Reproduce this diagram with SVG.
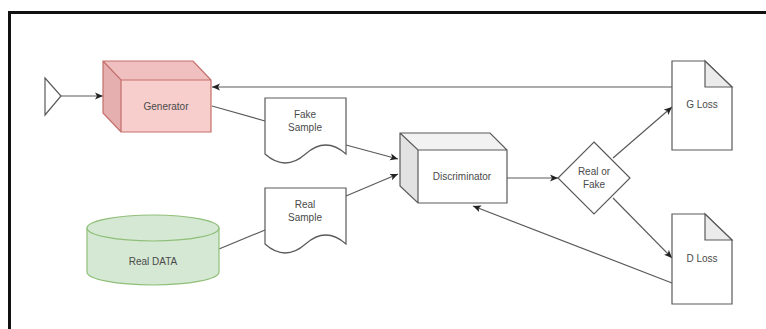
<svg xmlns="http://www.w3.org/2000/svg" width="766" height="329" viewBox="0 0 766 329">
  <style>
    .lbl { font-family: "Liberation Sans", Arial, sans-serif; font-size: 10px; fill: #4a4a4a; text-anchor: middle; }
    .edge { fill: none; stroke: #5a5a5a; stroke-width: 1.2; }
    .arrow { marker-end: url(#head); }
    .plain { fill: #fff; stroke: #5a5a5a; stroke-width: 1.2; }
    .fold { fill: #ebebeb; stroke: #5a5a5a; stroke-width: 1.2; }
  </style>
  <defs>
    <marker id="head" markerWidth="9" markerHeight="8" refX="8" refY="4" orient="auto" markerUnits="userSpaceOnUse">
      <path d="M0,0.5 L8,4 L0,7.5 L2,4 Z" fill="#222"/>
    </marker>
  </defs>

  <rect width="766" height="329" fill="#fff"/>

  <!-- frame -->
  <path d="M9.5,329 V12.5 H766" fill="none" stroke="#111" stroke-width="3"/>

  <!-- connectors -->
  <g id="connectors">
    <line class="edge arrow" x1="61" y1="96" x2="103" y2="96"/>
    <line class="edge arrow" x1="672" y1="87" x2="212" y2="87"/>
    <line class="edge" x1="212" y1="106" x2="265" y2="121"/>
    <line class="edge arrow" x1="346" y1="145" x2="398" y2="159"/>
    <line class="edge arrow" x1="346" y1="196" x2="398" y2="174"/>
    <line class="edge" x1="219" y1="249" x2="265" y2="230"/>
    <line class="edge arrow" x1="507" y1="178" x2="558" y2="178"/>
    <line class="edge arrow" x1="613" y1="158" x2="672" y2="107"/>
    <line class="edge arrow" x1="613" y1="198" x2="672" y2="258"/>
    <line class="edge arrow" x1="672" y1="283" x2="473" y2="206"/>
  </g>

  <!-- input noise -->
  <g id="noise">
    <path d="M45,78 L61,96 L45,115 Z" fill="#fff" stroke="#5a5a5a" stroke-width="1.2"/>
  </g>

  <!-- Generator cube -->
  <g id="generator">
    <polygon points="103,61 193,61 211,80 121,80" fill="#efc0bf"/>
    <polygon points="103,61 121,80 121,132 103,113" fill="#e4afae"/>
    <rect x="121" y="80" width="90" height="52" fill="#f8cecc"/>
    <path d="M103,61 H193 L211,80 V132 H121 L103,113 Z M103,61 L121,80 H211 M121,80 V132" fill="none" stroke="#c46e6b" stroke-width="1.2"/>
    <text class="lbl" x="166" y="110">Generator</text>
  </g>

  <!-- Fake Sample document -->
  <g id="fake-sample">
    <path class="plain" d="M265,98 H346 V154 Q325.75,136 305.5,154 Q285.25,172 265,154 Z"/>
    <text class="lbl" x="305" y="118">Fake</text>
    <text class="lbl" x="305" y="131">Sample</text>
  </g>

  <!-- Real Sample document -->
  <g id="real-sample">
    <path class="plain" d="M265,188 H346 V244 Q325.75,226 305.5,244 Q285.25,262 265,244 Z"/>
    <text class="lbl" x="305" y="208">Real</text>
    <text class="lbl" x="305" y="221">Sample</text>
  </g>

  <!-- Real DATA cylinder -->
  <g id="real-data">
    <path d="M87,228 A66,13 0 0 1 219,228 V272 A66,13 0 0 1 87,272 Z" fill="#d5e8d4" stroke="#8fbf78" stroke-width="1.2"/>
    <path d="M87,228 A66,13 0 0 0 219,228" fill="none" stroke="#8fbf78" stroke-width="1.2"/>
    <text class="lbl" x="153" y="265">Real DATA</text>
  </g>

  <!-- Discriminator cube -->
  <g id="discriminator">
    <polygon points="400,133 490,133 507,150 418,150" fill="#f2f2f2"/>
    <polygon points="400,133 418,150 418,203 400,186" fill="#e2e2e2"/>
    <rect x="418" y="150" width="89" height="53" fill="#fff"/>
    <path d="M400,133 H490 L507,150 V203 H418 L400,186 Z M400,133 L418,150 H507 M418,150 V203" fill="none" stroke="#5a5a5a" stroke-width="1.2"/>
    <text class="lbl" x="462" y="180">Discriminator</text>
  </g>

  <!-- Real or Fake decision -->
  <g id="decision">
    <polygon class="plain" points="594,142 630,178 594,214 558,178"/>
    <text class="lbl" x="594" y="175">Real or</text>
    <text class="lbl" x="594" y="188">Fake</text>
  </g>

  <!-- G Loss note -->
  <g id="g-loss">
    <path class="plain" d="M672,61 H705 L732,87 V150 H672 Z"/>
    <path class="fold" d="M705,61 V87 H732 Z"/>
    <text class="lbl" x="702" y="108">G Loss</text>
  </g>

  <!-- D Loss note -->
  <g id="d-loss">
    <path class="plain" d="M672,214 H705 L732,240 V304 H672 Z"/>
    <path class="fold" d="M705,214 V240 H732 Z"/>
    <text class="lbl" x="702" y="262">D Loss</text>
  </g>
</svg>
